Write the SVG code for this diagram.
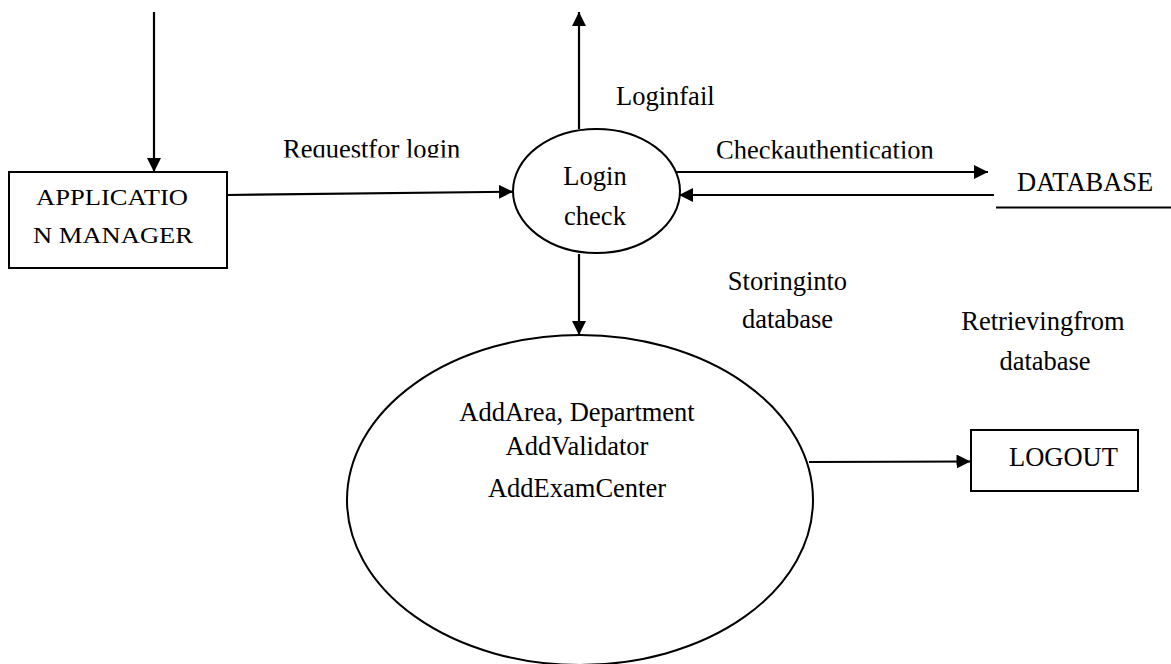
<svg xmlns="http://www.w3.org/2000/svg" width="1171" height="664" viewBox="0 0 1171 664">
  <defs>
    <style>
      .lbl { font-size: 26.5px; fill: #000; }
      .small { font-size: 23px; }
      .shape { fill: #fff; stroke: #000; stroke-width: 2; }
      .flow { fill: none; stroke: #000; stroke-width: 2.2; }
    </style>
    <marker id="arrow" markerUnits="userSpaceOnUse" markerWidth="15" markerHeight="14" refX="14" refY="7" orient="auto">
      <path d="M0,0 L14,7 L0,14 Z" fill="#000"/>
    </marker>
    <clipPath id="clipReq"><rect x="270" y="120" width="220" height="37.5"/></clipPath>
    <clipPath id="clipAuth"><rect x="700" y="120" width="260" height="38.5"/></clipPath>
  </defs>
  <rect width="1171" height="664" fill="#fff"/>

  <!-- data flows -->
  <g id="connectors">
    <path class="flow" d="M154,12 L154,172" marker-end="url(#arrow)"/>
    <path class="flow" d="M227,195 L513,191.7" marker-end="url(#arrow)"/>
    <path class="flow" d="M579,129 L579,12" marker-end="url(#arrow)"/>
    <path class="flow" d="M675,172 L988,172" marker-end="url(#arrow)"/>
    <path class="flow" d="M994,195 L679,195" marker-end="url(#arrow)"/>
    <path class="flow" d="M579,254 L579,335" marker-end="url(#arrow)"/>
    <path class="flow" d="M809,462 L970.5,461.5" marker-end="url(#arrow)"/>
  </g>

  <g font-family="'Liberation Serif', Tinos, 'Times New Roman', 'DejaVu Serif', serif">
    <!-- flow labels -->
    <g id="labels">
      <text class="lbl" x="283" y="158" clip-path="url(#clipReq)">Requestfor login</text>
      <text class="lbl" x="616" y="105">Loginfail</text>
      <text class="lbl" x="716" y="159" clip-path="url(#clipAuth)">Checkauthentication</text>
      <text class="lbl" x="787.5" y="290" text-anchor="middle">Storinginto</text>
      <text class="lbl" x="787.5" y="328" text-anchor="middle">database</text>
      <text class="lbl" x="1043" y="330" text-anchor="middle">Retrievingfrom</text>
      <text class="lbl" x="1045" y="370" text-anchor="middle">database</text>
    </g>

    <g id="application-manager">
      <rect class="shape" x="9" y="172" width="218" height="96"/>
      <text class="lbl small" transform="translate(36,205) scale(1.155,1)">APPLICATIO</text>
      <text class="lbl small" transform="translate(33,243) scale(1.155,1)">N MANAGER</text>
    </g>

    <g id="login-check">
      <ellipse class="shape" cx="596.5" cy="191" rx="83.5" ry="62"/>
      <text class="lbl" x="595" y="185" text-anchor="middle">Login</text>
      <text class="lbl" x="595" y="225" text-anchor="middle">check</text>
    </g>

    <g id="database">
      <text class="lbl" x="1017" y="191">DATABASE</text>
      <line x1="996" y1="207.5" x2="1171" y2="207.5" stroke="#000" stroke-width="2"/>
    </g>

    <g id="admin-tasks">
      <ellipse class="shape" cx="580" cy="500" rx="233" ry="165" stroke-width="1.6"/>
      <text class="lbl" x="577" y="421" text-anchor="middle">AddArea, Department</text>
      <text class="lbl" x="577" y="455" text-anchor="middle">AddValidator</text>
      <text class="lbl" x="577" y="497" text-anchor="middle">AddExamCenter</text>
    </g>

    <g id="logout">
      <rect class="shape" x="971" y="430" width="167" height="61"/>
      <text class="lbl" x="1009" y="466">LOGOUT</text>
    </g>
  </g>
</svg>
